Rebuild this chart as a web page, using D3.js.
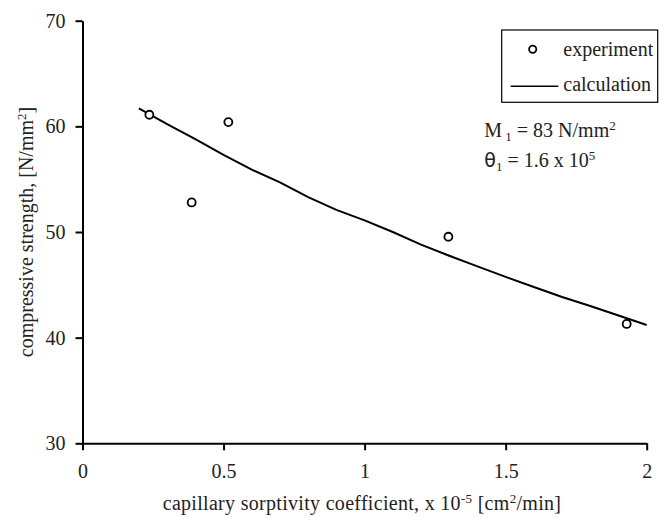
<!DOCTYPE html>
<html>
<head>
<meta charset="utf-8">
<script src="https://cdn.jsdelivr.net/npm/d3@7"></script>
<style>
  body { margin: 0; background: #fff; }
  svg { display: block; }
  svg text { font-family: "Liberation Serif", "Times New Roman", Times, serif; }
</style>
</head>
<body>
<svg id="chart" width="659" height="517" font-family="Liberation Serif, serif"></svg>
<script>
// Measured compressive strength against capillary sorptivity
const expX = [0.237, 0.387, 0.517, 1.297, 1.929];
const expY = [61.1, 52.8, 60.4, 49.55, 41.3];

// Model curve
const calcX = [0.2, 0.3, 0.4, 0.5, 0.6, 0.7, 0.8, 0.9, 1.0, 1.1, 1.2, 1.3, 1.4, 1.5, 1.6, 1.7, 1.8, 1.9, 2.0];
const calcY = [61.7, 60.2, 58.8, 57.3, 55.9, 54.7, 53.3, 52.1, 51.1, 50.0, 48.8, 47.75, 46.75, 45.75, 44.8, 43.85, 43.0, 42.1, 41.2];

const xTicks = [0, 0.5, 1, 1.5, 2];
const xTickLabels = ["0", "0.5", "1", "1.5", "2"];
const yTicks = [30, 40, 50, 60, 70];

const SERIF = "Liberation Serif";
const svg = d3.select("#chart");

const x = d3.scaleLinear().domain([0, 2]).range([82.5, 646.7]);
const y = d3.scaleLinear().domain([30, 70]).range([443.3, 20.7]);

// Axes
const yAxis = d3.axisLeft(y).tickValues(yTicks).tickSize(7).tickSizeOuter(0).tickPadding(10);
const gy = svg.append("g").attr("transform", `translate(${x(0)},0)`).call(yAxis);

const xAxis = d3.axisBottom(x).tickValues(xTicks)
  .tickFormat((d, i) => xTickLabels[i]).tickSize(7).tickSizeOuter(0).tickPadding(14);
const gx = svg.append("g").attr("transform", `translate(0,${y(30)})`).call(xAxis);

[gx, gy].forEach(g => {
  g.attr("font-family", SERIF).attr("font-size", 20);
  g.select(".domain").attr("stroke", "#000").attr("stroke-width", 2);
  g.selectAll(".tick line").attr("stroke", "#000").attr("stroke-width", 2);
  g.selectAll(".tick text").attr("fill", "#222");
});

// Calculation curve
const line = d3.line().x((d, i) => x(calcX[i])).y(d => y(d));
svg.append("path")
  .datum(calcY)
  .attr("d", line)
  .attr("fill", "none")
  .attr("stroke", "#000")
  .attr("stroke-width", 2);

// Experimental points
svg.append("g").selectAll("circle")
  .data(expX)
  .join("circle")
  .attr("cx", d => x(d))
  .attr("cy", (d, i) => y(expY[i]))
  .attr("r", 4)
  .attr("fill", "#fff")
  .attr("stroke", "#000")
  .attr("stroke-width", 1.8);

function label(sel) {
  return sel.attr("font-family", SERIF).attr("fill", "#222").attr("font-size", 20);
}

// Axis titles
const xt = label(svg.append("text"))
  .attr("x", 362).attr("y", 510)
  .attr("letter-spacing", 0.3)
  .attr("text-anchor", "middle");
xt.append("tspan").text("capillary sorptivity coefficient, x 10");
xt.append("tspan").attr("dy", -7).attr("font-size", 13).text("-5");
xt.append("tspan").attr("dy", 7).text(" [cm");
xt.append("tspan").attr("dy", -7).attr("font-size", 13).text("2");
xt.append("tspan").attr("dy", 7).text("/min]");

const yt = label(svg.append("text"))
  .attr("transform", "translate(33,232) rotate(-90)")
  .attr("text-anchor", "middle");
yt.append("tspan").text("compressive strength, [N/mm");
yt.append("tspan").attr("dy", -7).attr("font-size", 13).text("2");
yt.append("tspan").attr("dy", 7).text("]");

// Legend
const lg = svg.append("g");
lg.append("rect")
  .attr("x", 501.7).attr("y", 30)
  .attr("width", 156).attr("height", 72.3)
  .attr("fill", "#fff").attr("stroke", "#000").attr("stroke-width", 1.2);
lg.append("circle")
  .attr("cx", 532.7).attr("cy", 49.3).attr("r", 3.6)
  .attr("fill", "#fff").attr("stroke", "#000").attr("stroke-width", 1.8);
lg.append("line")
  .attr("x1", 510.7).attr("x2", 558.3).attr("y1", 86.3).attr("y2", 86.3)
  .attr("stroke", "#000").attr("stroke-width", 1.5);
label(lg.append("text")).attr("x", 563.3).attr("y", 55.5).text("experiment");
label(lg.append("text")).attr("x", 563.3).attr("y", 91).text("calculation");

// Model parameters
const m = label(svg.append("text")).attr("x", 484.3).attr("y", 136.7);
m.append("tspan").text("M");
m.append("tspan").attr("dy", 4).attr("font-size", 13).text(" 1");
m.append("tspan").attr("dy", -4).text(" = 83 N/mm");
m.append("tspan").attr("dy", -7).attr("font-size", 13).text("2");

const t = label(svg.append("text")).attr("x", 484.3).attr("y", 166.7);
t.append("tspan").attr("font-family", "DejaVu Sans").attr("font-size", 19).text("θ");
t.append("tspan").attr("dy", 4).attr("font-size", 13).text("1");
t.append("tspan").attr("dy", -4).text(" = 1.6 x 10");
t.append("tspan").attr("dy", -7).attr("font-size", 13).text("5");
</script>
</body>
</html>
